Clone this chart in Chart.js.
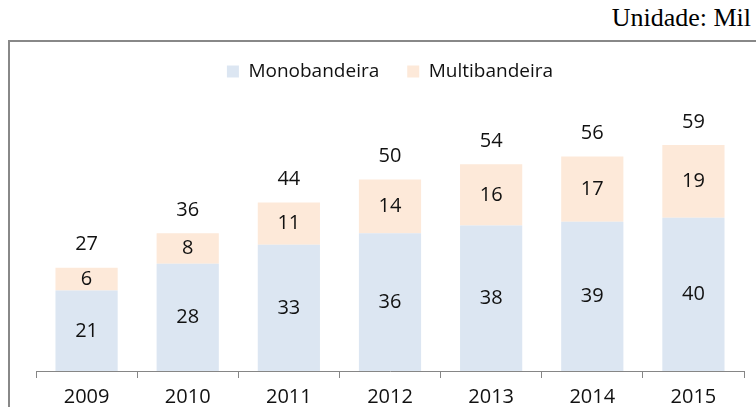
<!DOCTYPE html>
<html>
<head>
<meta charset="utf-8">
<script src="https://cdn.jsdelivr.net/npm/chart.js@4/dist/chart.umd.min.js"></script>
<style>
html,body{margin:0;padding:0;background:#fff;overflow:hidden;}
#wrap{position:relative;width:756px;height:407px;}
#frame{position:absolute;left:8px;top:40px;width:800px;height:420px;border:2px solid #888;box-sizing:border-box;}
#unit{position:absolute;right:5px;top:3px;font-family:"Liberation Serif",serif;font-size:26px;line-height:30px;color:#000;white-space:nowrap;}
#c{position:absolute;left:0;top:0;}
</style>
</head>
<body>
<div id="wrap">
<div id="frame"></div>
<div id="unit">Unidade: Mil</div>
<canvas id="c" width="756" height="407"></canvas>
</div>
<script>
const categories = ["2009","2010","2011","2012","2013","2014","2015"];
const monobandeira = [21,28,33,36,38,39,40];
const multibandeira = [6,8,11,14,16,17,19];
const totals = [27,36,44,50,54,56,59];
const seriesNames = ["Monobandeira","Multibandeira"];

const FONT = "'Open Sans', sans-serif";

const labelPlugin = {
  id: 'labels',
  afterDatasetsDraw(chart) {
    const ctx = chart.ctx;
    ctx.save();
    ctx.font = "20px " + FONT;
    ctx.fillStyle = "#111";
    ctx.textAlign = "center";
    ctx.textBaseline = "middle";
    chart.data.datasets.forEach((ds, di) => {
      const meta = chart.getDatasetMeta(di);
      meta.data.forEach((el, i) => {
        const yc = (el.y + el.base) / 2;
        ctx.fillText(String(ds.data[i]), el.x, yc);
        if (di === chart.data.datasets.length - 1) {
          ctx.fillText(String(totals[i]), el.x, el.y - 23);
        }
      });
    });
    ctx.restore();
  }
};

const legendGap = {
  id: 'legendGap',
  beforeInit(chart) {
    if (!chart.legend) return;
    const orig = chart.legend.fit;
    chart.legend.fit = function () {
      orig.call(this);
      this.height += 12;
    };
  }
};

new Chart(document.getElementById('c'), {
  type: 'bar',
  data: {
    labels: categories,
    datasets: [
      {label: seriesNames[0], data: monobandeira, backgroundColor: '#DCE6F2', borderWidth: 0},
      {label: seriesNames[1], data: multibandeira, backgroundColor: '#FDE9D9', borderWidth: 0}
    ]
  },
  options: {
    responsive: false,
    animation: false,
    devicePixelRatio: 1,
    categoryPercentage: 1,
    barPercentage: 0.615,
    layout: {padding: {left: 36, right: 12, top: 34, bottom: -9}},
    plugins: {
      legend: {
        display: true,
        position: 'top',
        labels: {
          boxWidth: 12, boxHeight: 12, padding: 28,
          color: '#111',
          font: {family: FONT, size: 19}
        }
      },
      tooltip: {enabled: false}
    },
    scales: {
      x: {
        stacked: true,
        grid: {display: true, offset: true, drawOnChartArea: false, drawTicks: true, tickLength: 7, color: '#868686'},
        border: {display: true, color: '#868686', width: 1},
        ticks: {color: '#111', font: {family: FONT, size: 20}, padding: 7, maxRotation: 0}
      },
      y: {
        stacked: true,
        display: false,
        min: 0,
        max: 70
      }
    }
  },
  plugins: [legendGap, labelPlugin]
});
</script>
</body>
</html>
